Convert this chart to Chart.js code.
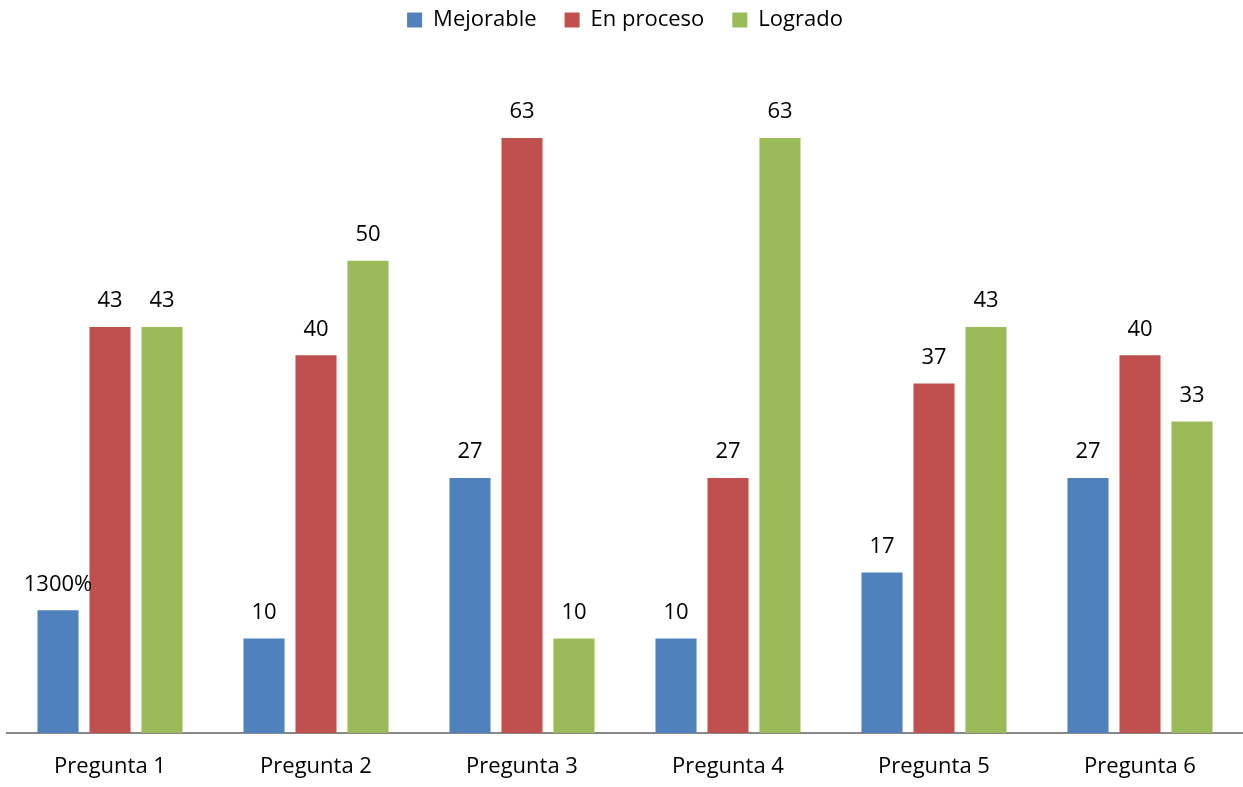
<!DOCTYPE html>
<html>
<head>
<meta charset="utf-8">
<script src="https://cdn.jsdelivr.net/npm/chart.js@4/dist/chart.umd.min.js"></script>
<style>
  html, body { margin: 0; padding: 0; background: #fff; }
  #wrap { width: 1243px; height: 787px; }
</style>
</head>
<body>
<div id="wrap"><canvas id="c" width="1243" height="787"></canvas></div>
<script>
// Categories and series (percent of students per level)
const categories = ["Pregunta 1", "Pregunta 2", "Pregunta 3", "Pregunta 4", "Pregunta 5", "Pregunta 6"];
const mejorable  = [13, 10, 27, 10, 17, 27];
const enProceso  = [43, 40, 63, 27, 37, 40];
const logrado    = [43, 50, 10, 63, 43, 33];
// Value labels as printed above the bars (first one uses a percent format)
const mejorableLabels = ["1300%", "10", "27", "10", "17", "27"];
const enProcesoLabels = enProceso.map(String);
const logradoLabels   = logrado.map(String);

const FONT = "'Open Sans', 'Noto Sans', sans-serif";
const FONT_SIZE = 22;

// Space between the legend and the plot
const legendGap = {
  id: 'legendGap',
  beforeInit(chart) {
    const fit = chart.legend.fit;
    chart.legend.fit = function () {
      fit.bind(chart.legend)();
      this.height += 31;
    };
  }
};

// Draws the value text above every bar
const valueLabels = {
  id: 'valueLabels',
  afterDatasetsDraw(chart) {
    const ctx = chart.ctx;
    ctx.save();
    ctx.font = FONT_SIZE + "px " + FONT;
    ctx.fillStyle = "#000";
    ctx.textAlign = "center";
    ctx.textBaseline = "middle";
    chart.data.datasets.forEach((ds, i) => {
      const meta = chart.getDatasetMeta(i);
      meta.data.forEach((el, j) => {
        ctx.fillText(ds.valueText[j], el.x, el.y - 26);
      });
    });
    ctx.restore();
  }
};

new Chart(document.getElementById('c'), {
  type: 'bar',
  data: {
    labels: categories,
    datasets: [
      { label: "Mejorable",  data: mejorable, valueText: mejorableLabels, backgroundColor: "#4F81BD" },
      { label: "En proceso", data: enProceso, valueText: enProcesoLabels, backgroundColor: "#C0504D" },
      { label: "Logrado",    data: logrado,   valueText: logradoLabels,   backgroundColor: "#9BBB59" }
    ]
  },
  options: {
    responsive: false,
    animation: false,
    layout: { padding: { left: 7, right: 0, top: -19, bottom: 0 } },
    datasets: { bar: { categoryPercentage: 0.757, barPercentage: 0.79 } },
    plugins: {
      legend: {
        position: 'top',
        labels: {
          boxWidth: 15, boxHeight: 15, padding: 28,
          color: "#000",
          font: { family: FONT, size: FONT_SIZE }
        }
      },
      tooltip: { enabled: false }
    },
    scales: {
      x: {
        grid: { display: false, drawTicks: false },
        border: { display: true, color: "#888", width: 2 },
        ticks: { color: "#000", padding: 21, font: { family: FONT, size: FONT_SIZE } },
        afterFit(scale) { scale.height = 54; }
      },
      y: {
        display: false,
        min: 0, max: 70
      }
    }
  },
  plugins: [legendGap, valueLabels]
});
</script>
</body>
</html>
